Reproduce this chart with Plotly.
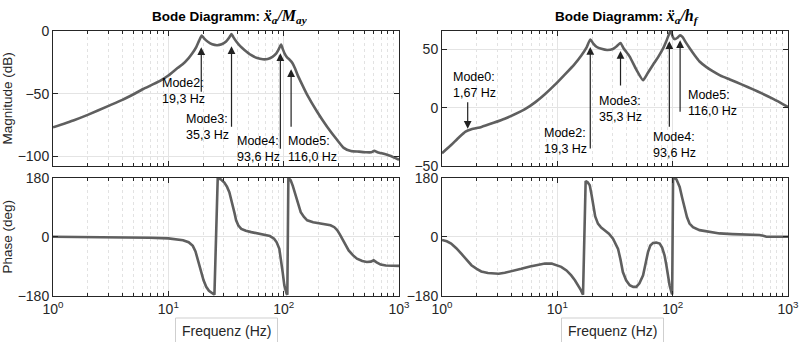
import math
import plotly.graph_objects as go

# ---------------- data ----------------
f_mag_l = [1, 1.5, 2, 3, 4, 5, 6, 8.4, 10, 12, 13.3, 15, 16.2, 17.5, 18.5, 19.5, 20.5, 22, 24,
           26.5, 29, 31.5, 33.5, 35.3, 36.5, 39, 42, 45.7, 52, 59, 66, 72.6, 80, 86, 90, 95,
           98, 102, 107, 113, 119, 125, 132, 145, 160, 195, 238, 290, 332, 383, 450, 520,
           575, 610, 650, 708, 850, 1000]
mag_l = [-77, -71.5, -67, -60, -55, -50.5, -46.5, -40, -35.5, -29.5, -26.5, -21.5, -17.5,
         -12.5, -7.5, -3.5, -6, -8.5, -10.5, -11.2, -10.5, -8.5, -5.5, -2.2, -4.5, -8.5, -12,
         -15, -19, -21.5, -22.5, -22.3, -20.5, -18, -15, -10.7, -14, -18, -21, -23, -25.5,
         -29.5, -35, -43, -51, -64.5, -76.5, -87, -93.5, -96, -96.5, -97, -97, -95.8, -97,
         -97.8, -100, -103]

f_ph_l = [1, 2, 4, 6.9, 10, 12, 13.4, 15, 16.3, 17.2, 18, 18.7, 19.3, 20.2, 21.3, 22.5, 24.3,
          25.1, 26.8, 28.5, 30.6, 32.3, 33.8, 35, 36.3, 37.5, 38.7, 40.5, 42.9, 47, 52.4, 60,
          67.9, 76, 82.6, 87, 91.7, 95, 98, 101.3, 104, 106, 107.6, 109.8, 112, 115, 120, 127,
          133, 140.6, 150, 160, 180, 208, 255, 275, 291, 306, 321, 340, 366, 400, 432, 480,
          526, 570, 603, 640, 693, 770, 850, 1000]
ph_l = [0, -0.5, -1, -3, -5, -8, -11, -17, -28, -45, -67, -90, -108, -133, -153, -165, -172,
        -177, 178, 175, 165, 152, 136, 117, 96, 72, 50, 34, 24, 18, 14, 10, 6, 2, -6, -17,
        -37, -70, -108, -148, -166, -174, -177, 177, 176, 172, 155, 126, 100, 75, 60, 50, 44,
        40, 35, 29, 20, 8, -6, -22, -42, -57, -67, -74, -77, -76, -72, -78, -85, -88, -89, -89]

f_mag_r = [1, 1.2, 1.4, 1.6, 1.8, 2.2, 2.8, 3.5, 5.2, 6.5, 7.8, 9.5, 11.6, 14, 16.2, 18, 19.3,
           20.5, 22, 24.1, 27, 30.3, 33, 35.3, 37.5, 42.4, 48.4, 55.4, 61, 67.6, 75, 82.6, 88,
           93, 96, 100, 104, 110, 116, 122, 130, 141, 155, 171, 195, 224, 260, 313, 400, 498,
           600, 743, 870, 1000]
mag_r = [-39, -32, -25.5, -20.5, -18.5, -16.5, -13, -9.5, -1.5, 5, 11.5, 19.5, 28.4, 37, 45,
         52, 58.5, 55, 52, 50.5, 49.5, 50.3, 53, 55.5, 51, 43.8, 32.6, 23.5, 30, 36.8, 43.5,
         50.8, 57, 63, 66.5, 61, 58.8, 60, 62, 60.5, 56, 50.8, 45, 39.6, 35, 31.1, 27.5, 24.2,
         19.8, 15.7, 12, 7.5, 4, 0.5]

f_ph_r = [1, 1.1, 1.2, 1.33, 1.47, 1.62, 1.8, 2.0, 2.19, 2.5, 2.77, 3.1, 3.5, 4.2, 4.87, 5.8,
          6.8, 7.8, 8.9, 9.8, 10.8, 12, 13.2, 14.2, 15.1, 16, 16.7, 17.6, 18.3, 19.1, 19.8,
          20.4, 21.3, 22.5, 24, 25.7, 28, 30.4, 32, 33.6, 35.3, 37, 39.5, 42.4, 45.5, 48.4,
          51.5, 55.4, 58, 61.1, 64, 67.6, 72, 77.2, 81, 85, 88, 91, 94, 97.5, 99, 100.8, 104,
          107.8, 111, 115, 121, 127, 133, 140, 150, 171, 210, 255, 330, 435, 566, 610, 650,
          800, 1000]
ph_r = [-10, -14, -21, -35, -52, -70, -87, -98, -106, -111, -113, -113, -110, -104, -98, -91,
        -85, -82, -82, -86, -92, -103, -118, -133, -148, -163, -177, 170, 166, 157, 128, 96,
        62, 40, 28, 20, 9, -6, -20, -37, -70, -108, -133, -148, -153, -153, -142, -118, -85,
        -47, -27, -19, -18, -21, -33, -57, -85, -118, -148, -169, -176, 177, 179, 175, 165,
        152, 118, 85, 60, 40, 29, 20, 14, 10, 8, 7, 5, 3, 0, 0, 0]

# modes: (label, frequency) and arrow tip magnitude
modes_l = ["Mode2", "Mode3", "Mode4", "Mode5"]
freq_l = [19.3, 35.3, 93.6, 116.0]
tip_l = [-12.8, -12.0, -17.6, -30.4]
modes_r = ["Mode0", "Mode2", "Mode3", "Mode4", "Mode5"]
freq_r = [1.67, 19.3, 35.3, 93.6, 116.0]
tip_r = [-18.0, 52.0, 48.6, 57.0, 57.8]

mag_ticks_l = [-100, -50, 0]
mag_ticks_r = [-50, 0, 50]
ph_ticks = [-180, 0, 180]
x_ticks = [1, 10, 100, 1000]
x_ticktext = ["10<sup>0</sup>", "10<sup>1</sup>", "10<sup>2</sup>", "10<sup>3</sup>"]
x_minor = [m * 10 ** k for k in range(3) for m in range(2, 10)]

# ---------------- layout helpers ----------------
W, H = 801, 342
def px(x):
    return x / W
def py(y):
    return 1 - y / H

FONT = "Liberation Sans, Arial, Helvetica, sans-serif"
TXT = "#262626"
LINE = "#5f5f5f"

fig = go.Figure()
fig.add_trace(go.Scatter(x=f_mag_l, y=mag_l, mode="lines",
                         line=dict(color=LINE, width=2.6, shape="spline", smoothing=0.5),
                         xaxis="x", yaxis="y", hoverinfo="skip"))
fig.add_trace(go.Scatter(x=f_ph_l, y=ph_l, mode="lines", line=dict(color=LINE, width=2.6),
                         xaxis="x2", yaxis="y2", hoverinfo="skip"))
fig.add_trace(go.Scatter(x=f_mag_r, y=mag_r, mode="lines",
                         line=dict(color=LINE, width=2.6, shape="spline", smoothing=0.5),
                         xaxis="x3", yaxis="y3", hoverinfo="skip"))
fig.add_trace(go.Scatter(x=f_ph_r, y=ph_r, mode="lines", line=dict(color=LINE, width=2.6),
                         xaxis="x4", yaxis="y4", hoverinfo="skip"))

def xaxis(domain, anchor, labels):
    return dict(type="log", range=[0, 3], domain=domain, anchor=anchor, automargin=False,
                tickvals=x_ticks, ticktext=x_ticktext, showticklabels=labels,
                ticks="inside", ticklen=5, tickcolor=TXT, mirror="allticks",
                showline=True, linecolor=TXT, linewidth=1,
                showgrid=True, gridcolor="#e4e4e4", gridwidth=1,
                minor=dict(tickvals=x_minor, ticks="inside", ticklen=3, tickcolor=TXT,
                           showgrid=True, gridcolor="#e2e2e2", griddash="dot", gridwidth=1),
                tickfont=dict(family=FONT, size=14, color=TXT), zeroline=False)

def yaxis(domain, anchor, rng, ticks, title):
    return dict(range=rng, domain=domain, anchor=anchor, tickvals=ticks, automargin=False,
                ticks="inside", ticklen=5, tickcolor=TXT, mirror="allticks",
                showline=True, linecolor=TXT, linewidth=1,
                showgrid=True, gridcolor="#e4e4e4", zeroline=False,
                tickfont=dict(family=FONT, size=14, color=TXT),
                title=dict(text=title, font=dict(family=FONT, size=13.5, color=TXT), standoff=6))

xl = [px(53), px(399)]
xr = [px(442), px(788)]
ytop = [py(166), py(30.7)]
ybot = [py(295.7), py(177.7)]

fig.update_layout(
    template="none",
    width=W, height=H, margin=dict(l=0, r=0, t=0, b=0, autoexpand=False),
    paper_bgcolor="white", plot_bgcolor="white", showlegend=False,
    xaxis=xaxis(xl, "y", False),
    yaxis=yaxis(ytop, "x", [-108, 0.4], mag_ticks_l, "Magnitude (dB)"),
    xaxis2=xaxis(xl, "y2", True),
    yaxis2=yaxis(ybot, "x2", [-180, 180], ph_ticks, "Phase (deg)"),
    xaxis3=xaxis(xr, "y3", False),
    yaxis3=yaxis(ytop, "x3", [-50, 66], mag_ticks_r, ""),
    xaxis4=xaxis(xr, "y4", True),
    yaxis4=yaxis(ybot, "x4", [-180, 180], ph_ticks, ""),
)

ann = []
# titles
serif = "style='font-family:Liberation Serif, DejaVu Serif, serif;font-size:16px'"
ann.append(dict(xref="paper", yref="paper", x=px(230), y=py(16.5), xanchor="center",
                yanchor="middle", showarrow=False,
                text=f"<b>Bode Diagramm: </b><span {serif}><b><i>ẍ<sub>a</sub>/M<sub>ay</sub></i></b></span>",
                font=dict(family=FONT, size=13.5, color="black")))
ann.append(dict(xref="paper", yref="paper", x=px(626.5), y=py(16.5), xanchor="center",
                yanchor="middle", showarrow=False,
                text=f"<b>Bode Diagramm: </b><span {serif}><b><i>ẍ<sub>a</sub>/h<sub>f</sub></i></b></span>",
                font=dict(family=FONT, size=13.5, color="black")))

# arrows
arrow_len_l = [46, 82, 97, 59]
arrow_len_r = [-28, 103, 36, 87, 73]
for f, t, a in zip(freq_l, tip_l, arrow_len_l):
    ann.append(dict(xref="x", yref="y", x=math.log10(f), y=t, ax=0, ay=a, text="",
                    showarrow=True, arrowhead=2, arrowsize=1.3, arrowwidth=1.2,
                    arrowcolor="#222222"))
for f, t, a in zip(freq_r, tip_r, arrow_len_r):
    ann.append(dict(xref="x3", yref="y3", x=math.log10(f), y=t, ax=0, ay=a, text="",
                    showarrow=True, arrowhead=2, arrowsize=1.3, arrowwidth=1.2,
                    arrowcolor="#222222"))

# mode labels (left edge px, vertical middle px)
pos_l = [(160, 91), (184, 127.5), (235, 149), (286, 149)]
pos_r = [(451, 84.5), (542, 140.8), (597, 108.5), (651, 145), (686, 103.5)]
for name, f, (x, y) in zip(modes_l, freq_l, pos_l):
    ann.append(dict(xref="paper", yref="paper", x=px(x), y=py(y), xanchor="left",
                    yanchor="middle", align="left", showarrow=False,
                    text=f"{name}:<br>{f:.1f}".replace(".", ",") + " Hz",
                    font=dict(family=FONT, size=12.5, color="black")))
for name, f, (x, y) in zip(modes_r, freq_r, pos_r):
    lab = f"{f:.2f}" if f < 10 else f"{f:.1f}"
    ann.append(dict(xref="paper", yref="paper", x=px(x), y=py(y), xanchor="left",
                    yanchor="middle", align="left", showarrow=False,
                    text=f"{name}:<br>" + lab.replace(".", ",") + " Hz",
                    font=dict(family=FONT, size=12.5, color="black")))

# x-axis labels in boxes
shapes = []
for cx in (226.5, 612.5):
    shapes.append(dict(type="rect", xref="paper", yref="paper", x0=px(cx - 51), x1=px(cx + 51),
                       y0=py(346), y1=py(318), line=dict(color="#cfcfcf", width=1),
                       fillcolor="white", layer="above"))
    ann.append(dict(xref="paper", yref="paper", x=px(cx), y=py(331), xanchor="center",
                    yanchor="middle", showarrow=False, text="Frequenz (Hz)",
                    font=dict(family=FONT, size=14, color=TXT)))

fig.update_layout(annotations=ann, shapes=shapes)
fig.write_html("out.html")
